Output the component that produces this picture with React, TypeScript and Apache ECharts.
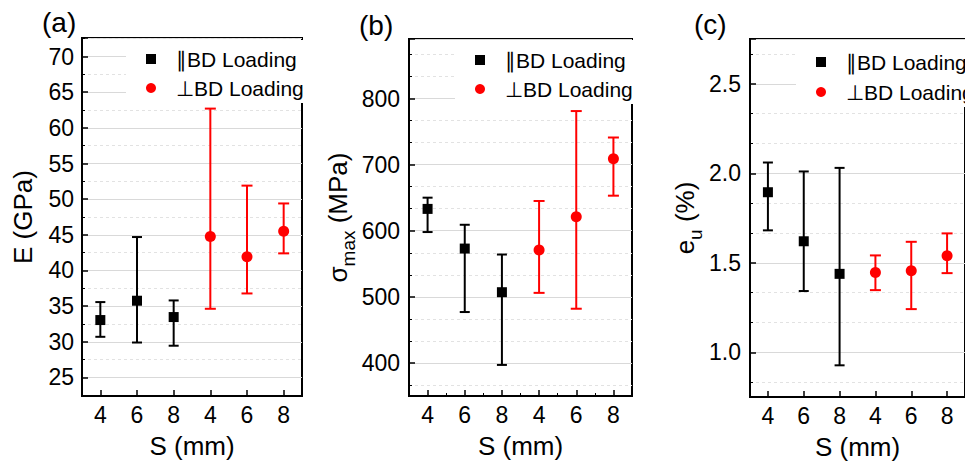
import React, { useEffect, useRef } from 'react';
import * as echarts from 'echarts';

// ---------- data ----------
const sLabels = ['4', '6', '8', '4', '6', '8'];
const parIdx = [0, 1, 2];
const perpIdx = [3, 4, 5];
const parName = '\u2225BD Loading';
const perpName = '\u22A5BD Loading';

// (a) Young's modulus E (GPa)
const E_par = [33.05, 35.76, 33.47];
const E_par_low = [30.7, 29.9, 29.45];
const E_par_high = [35.57, 44.69, 35.8];
const E_perp = [44.78, 41.93, 45.5];
const E_perp_low = [34.63, 36.78, 42.4];
const E_perp_high = [62.7, 51.9, 49.4];

// (b) sigma_max (MPa)
const S_par = [633, 573, 507];
const S_par_low = [598, 477, 397];
const S_par_high = [650, 609, 564];
const S_perp = [571, 621, 709];
const S_perp_low = [506, 482, 653];
const S_perp_high = [645, 781, 741];

// (c) e_u (%)
const U_par = [1.894, 1.62, 1.438];
const U_par_low = [1.681, 1.342, 0.927];
const U_par_high = [2.06, 2.01, 2.03];
const U_perp = [1.446, 1.455, 1.539];
const U_perp_low = [1.347, 1.241, 1.442];
const U_perp_high = [1.541, 1.617, 1.664];

const FONT = '"Liberation Sans", Arial, Helvetica, sans-serif';

const panels = [
  {
    tag: '(a)', tagX: 42, tagY: 22,
    grid: { left: 82, top: 38, width: 220, height: 358 },
    yMin: 22.4, yMax: 72.6, interval: 5, splitNumber: 10, minorSplit: 2, decimals: 0,
    yName: 'E (GPa)', yNameGap: 46, yLabelMargin: 8,
    legend: { left: 126, top: 40, pt: 8, gap: 7 },
    par: E_par, parLow: E_par_low, parHigh: E_par_high,
    perp: E_perp, perpLow: E_perp_low, perpHigh: E_perp_high,
  },
  {
    tag: '(b)', tagX: 359, tagY: 25,
    grid: { left: 409, top: 39, width: 223, height: 357 },
    yMin: 350, yMax: 890, interval: 100, splitNumber: 5, minorSplit: 3, decimals: 0,
    yName: '{m|\u03C3}{s|max}{m| (MPa)}', yNameGap: 51, yLabelMargin: 9,
    legend: { left: 455, top: 40, pt: 9, gap: 7 },
    par: S_par, parLow: S_par_low, parHigh: S_par_high,
    perp: S_perp, perpLow: S_perp_low, perpHigh: S_perp_high,
  },
  {
    tag: '(c)', tagX: 694, tagY: 24,
    grid: { left: 750, top: 39, width: 222, height: 358 },
    yMin: 0.75, yMax: 2.75, interval: 0.5, splitNumber: 4, minorSplit: 3, decimals: 1,
    yName: '{m|e}{s|u}{m| (%)}', yNameGap: 43, yLabelMargin: 9,
    legend: { left: 796, top: 40, pt: 11, gap: 8 },
    par: U_par, parLow: U_par_low, parHigh: U_par_high,
    perp: U_perp, perpLow: U_perp_low, perpHigh: U_perp_high,
  },
];

function errRender(color: string, half: number) {
  return (params: any, api: any) => {
    const x = api.value(0);
    const lo = api.coord([x, api.value(1)]);
    const hi = api.coord([x, api.value(2)]);
    const style = { stroke: color, lineWidth: 2 };
    return {
      type: 'group',
      children: [
        { type: 'line', shape: { x1: lo[0], y1: lo[1], x2: hi[0], y2: hi[1] }, style },
        { type: 'line', shape: { x1: lo[0] - half, y1: lo[1], x2: lo[0] + half, y2: lo[1] }, style },
        { type: 'line', shape: { x1: hi[0] - half, y1: hi[1], x2: hi[0] + half, y2: hi[1] }, style },
      ],
    };
  };
}

function buildOption() {
  const grid: any[] = [];
  const xAxis: any[] = [];
  const yAxis: any[] = [];
  const series: any[] = [];
  const legend: any[] = [];
  const graphic: any[] = [];

  panels.forEach((p, i) => {
    grid.push({ ...p.grid, show: true, borderColor: '#000', borderWidth: 2, backgroundColor: 'transparent' });
    xAxis.push({
      type: 'category', gridIndex: i, data: sLabels, boundaryGap: true, position: 'bottom',
      axisLine: { show: true, lineStyle: { color: '#000', width: 2 } },
      axisTick: { show: true, alignWithLabel: true, inside: true, length: 6, interval: 0, lineStyle: { color: '#000', width: 1.5 } },
      axisLabel: { interval: 0, margin: 7, fontSize: 23, color: '#000', fontFamily: FONT },
      splitLine: { show: false },
      name: 'S (mm)', nameLocation: 'middle', nameGap: 37,
      nameTextStyle: { fontSize: 26, color: '#000', fontFamily: FONT },
    });
    const iv = p.interval;
    yAxis.push({
      type: 'value', gridIndex: i, min: p.yMin, max: p.yMax,
      splitNumber: p.splitNumber, minInterval: iv, maxInterval: iv,
      axisLine: { show: true, lineStyle: { color: '#000', width: 2 } },
      axisTick: { show: true, inside: true, length: 6, lineStyle: { color: '#000', width: 1.5 } },
      minorTick: { show: true, splitNumber: p.minorSplit, length: 3, lineStyle: { color: '#000', width: 1 } },
      splitLine: { show: true, lineStyle: { color: '#d9d9d9', width: 1 } },
      minorSplitLine: { show: true, lineStyle: { color: '#e2e2e2', width: 1, type: [3, 3] } },
      axisLabel: {
        margin: p.yLabelMargin, fontSize: 23, color: '#000', fontFamily: FONT,
        formatter: (v: number) => {
          const r = v / iv;
          if (Math.abs(r - Math.round(r)) > 1e-6) return '';
          return v.toFixed(p.decimals);
        },
      },
      name: p.yName, nameLocation: 'middle', nameGap: p.yNameGap, nameRotate: 90,
      nameTextStyle: {
        fontSize: 26, color: '#000', fontFamily: FONT,
        rich: {
          m: { fontSize: 26, fontFamily: FONT, color: '#000', lineHeight: 40 },
          s: { fontSize: 19, fontFamily: FONT, color: '#000', lineHeight: 19, verticalAlign: 'bottom' },
        },
      },
    });
    series.push({
      type: 'custom', name: 'errPar' + i, xAxisIndex: i, yAxisIndex: i, z: 2,
      renderItem: errRender('#000', 5),
      encode: { x: 0, y: [1, 2] },
      data: parIdx.map((x, j) => [x, p.parLow[j], p.parHigh[j]]),
    });
    series.push({
      type: 'custom', name: 'errPerp' + i, xAxisIndex: i, yAxisIndex: i, z: 2,
      renderItem: errRender('#ff0000', 5.5),
      encode: { x: 0, y: [1, 2] },
      data: perpIdx.map((x, j) => [x, p.perpLow[j], p.perpHigh[j]]),
    });
    series.push({
      type: 'scatter', name: parName, xAxisIndex: i, yAxisIndex: i, z: 3,
      symbol: 'rect', symbolSize: 10, itemStyle: { color: '#000', opacity: 1 },
      data: parIdx.map((x, j) => [x, p.par[j]]),
    });
    series.push({
      type: 'scatter', name: perpName, xAxisIndex: i, yAxisIndex: i, z: 3,
      symbol: 'circle', symbolSize: 11, itemStyle: { color: '#ff0000', opacity: 1 },
      data: perpIdx.map((x, j) => [x, p.perp[j]]),
    });
    legend.push({
      left: p.legend.left, top: p.legend.top, orient: 'vertical',
      itemWidth: 10, itemHeight: 10, itemGap: p.legend.gap,
      padding: [p.legend.pt, 8, 4, 20], backgroundColor: '#fff',
      selectedMode: false,
      itemStyle: { opacity: 1 },
      textStyle: { fontSize: 21, lineHeight: 22, color: '#000', fontFamily: FONT, padding: [0, 0, 0, 15] },
      data: [{ name: parName, icon: 'rect' }, { name: perpName, icon: 'circle' }],
    });
    graphic.push({
      type: 'text', x: p.tagX, y: p.tagY,
      style: { text: p.tag, fontSize: 28, fontFamily: FONT, fill: '#000', align: 'left', verticalAlign: 'middle' },
    });
  });

  // minor boundary ticks on panel (b) x axis
  xAxis.push({
    type: 'category', gridIndex: 1, data: sLabels, boundaryGap: true, position: 'bottom',
    axisLine: { show: false },
    axisTick: { show: true, alignWithLabel: false, inside: true, length: 3, interval: 0, lineStyle: { color: '#000', width: 1 } },
    axisLabel: { show: false },
    splitLine: { show: false },
  });

  return { animation: false, grid, xAxis, yAxis, series, legend, graphic };
}

export default function App() {
  const ref = useRef<HTMLDivElement>(null);
  useEffect(() => {
    if (!ref.current) return;
    const chart = echarts.init(ref.current, undefined, { renderer: 'svg' });
    chart.setOption(buildOption() as any);
    return () => chart.dispose();
  }, []);
  return (
    <div
      ref={ref}
      style={{ position: 'absolute', left: 0, top: 0, width: 965, height: 466, background: '#fff', overflow: 'hidden' }}
    />
  );
}
